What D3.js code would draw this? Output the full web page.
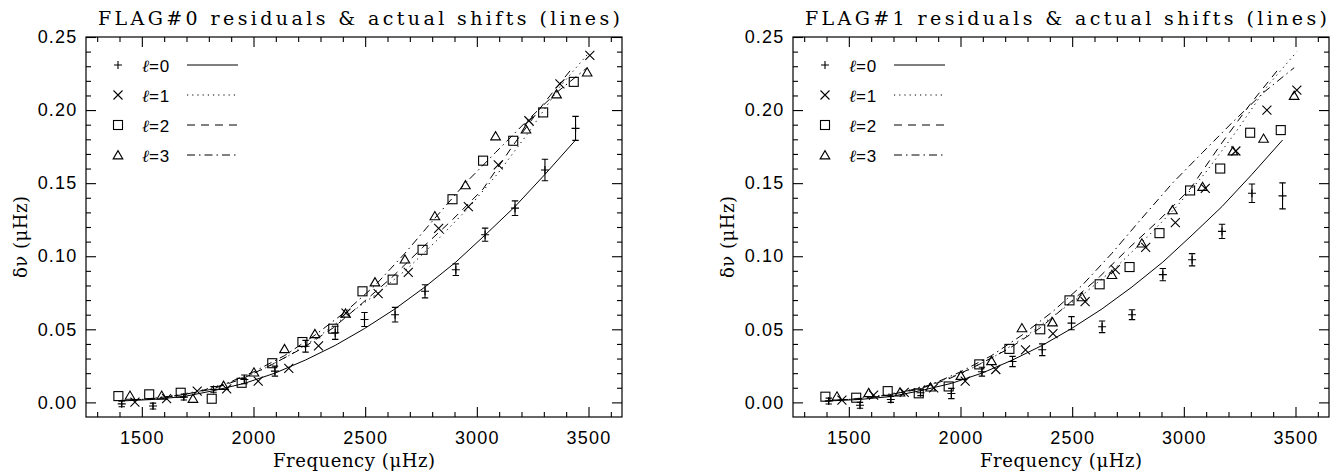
<!DOCTYPE html>
<html><head><meta charset="utf-8">
<script src="https://cdn.jsdelivr.net/npm/d3@7"></script>
<style>body{margin:0;background:#fff} svg{display:block}</style>
</head><body>
<svg id="c" width="1331" height="473"></svg>
<script>
// ---------- data ----------
const titles = ["FLAG#0 residuals & actual shifts (lines)", "FLAG#1 residuals & actual shifts (lines)"];
const xLabel = "Frequency (\u03BCHz)";
const yLabel = "\u03B4\u03BD (\u03BCHz)";
const degreeLabels = ["\u2113=0", "\u2113=1", "\u2113=2", "\u2113=3"];
const xTicks = [1500, 2000, 2500, 3000, 3500];
const xTickLabels = ["1500", "2000", "2500", "3000", "3500"];
const yTicks = [0, 0.05, 0.10, 0.15, 0.20, 0.25];
const yTickLabels = ["0.00", "0.05", "0.10", "0.15", "0.20", "0.25"];

// mode frequencies (muHz) per degree
const freqL0 = [1410, 1550, 1688, 1821, 1959, 2096, 2233, 2366, 2497, 2634, 2768, 2906, 3037, 3171, 3305, 3442];
const freqL1 = [1469, 1611, 1748, 1880, 2021, 2158, 2291, 2414, 2558, 2693, 2829, 2962, 3096, 3233, 3372, 3506];
const freqL2 = [1395, 1533, 1674, 1813, 1947, 2084, 2219, 2357, 2488, 2623, 2757, 2891, 3028, 3163, 3297, 3434];
const freqL3 = [1447, 1589, 1729, 1866, 2002, 2139, 2275, 2412, 2544, 2678, 2812, 2949, 3084, 3220, 3357, 3494];

// actual shifts (lines), same in both panels
const shiftL0 = [0.001, 0.002, 0.004, 0.008, 0.013, 0.020, 0.029, 0.039, 0.0505, 0.064, 0.079, 0.096, 0.1145, 0.134, 0.156, 0.1795];
const shiftL1 = [0.0015, 0.004, 0.0075, 0.013, 0.021, 0.032, 0.045, 0.059, 0.075, 0.092, 0.112, 0.133, 0.157, 0.185, 0.216, 0.240];
const shiftL2 = [0.001, 0.0025, 0.005, 0.009, 0.016, 0.026, 0.037, 0.051, 0.068, 0.086, 0.106, 0.125, 0.146, 0.176, 0.204, 0.230];
const shiftL3 = [0.0015, 0.003, 0.0065, 0.012, 0.021, 0.032, 0.046, 0.062, 0.080, 0.102, 0.126, 0.150, 0.171, 0.192, 0.212, 0.229];

// FLAG#0 residuals
const flag0L0 = [-0.001, -0.0025, 0.0036, 0.0089, 0.0157, 0.0214, 0.0384, 0.0476, 0.0567, 0.060, 0.076, 0.0908, 0.1147, 0.1329, 0.159, 0.1875];
const flag0L0Err = [0.002, 0.002, 0.002, 0.002, 0.003, 0.0034, 0.004, 0.0045, 0.0048, 0.005, 0.0045, 0.004, 0.0045, 0.005, 0.0074, 0.0082];
const flag0L1 = [0.0002, 0.0025, 0.0077, 0.0093, 0.0146, 0.0233, 0.0387, 0.061, 0.0744, 0.089, 0.119, 0.134, 0.1625, 0.1927, 0.218, 0.2375];
const flag0L2 = [0.0043, 0.0055, 0.0066, 0.0025, 0.0134, 0.0268, 0.0413, 0.0504, 0.076, 0.084, 0.1044, 0.139, 0.1654, 0.179, 0.1984, 0.2193];
const flag0L3 = [0.0048, 0.0048, 0.0027, 0.0116, 0.0207, 0.0367, 0.047, 0.061, 0.0824, 0.098, 0.1276, 0.1488, 0.1823, 0.187, 0.211, 0.226];

// FLAG#1 residuals
const flag1L0 = [0.0009, -0.002, 0.002, 0.0066, 0.0061, 0.021, 0.028, 0.036, 0.0542, 0.0517, 0.060, 0.0874, 0.0976, 0.117, 0.1431, 0.1413];
const flag1L0Err = [0.002, 0.002, 0.002, 0.002, 0.0035, 0.003, 0.0035, 0.004, 0.0045, 0.004, 0.0034, 0.0042, 0.0042, 0.0049, 0.0063, 0.0089];
const flag1L1 = [0.0016, 0.005, 0.0068, 0.010, 0.0146, 0.0225, 0.036, 0.047, 0.069, 0.0908, 0.106, 0.123, 0.1465, 0.172, 0.200, 0.2137];
const flag1L2 = [0.0039, 0.0032, 0.0077, 0.0062, 0.0109, 0.026, 0.0366, 0.050, 0.0698, 0.0808, 0.0926, 0.1158, 0.145, 0.160, 0.1845, 0.1863];
const flag1L3 = [0.0043, 0.0066, 0.007, 0.0105, 0.0184, 0.0285, 0.051, 0.055, 0.0722, 0.0874, 0.109, 0.1317, 0.1477, 0.172, 0.1807, 0.210];

// ---------- drawing ----------
const svg = d3.select("#c");
const SERIF = "'DejaVu Serif','Liberation Serif',serif";
const SANS = "'Liberation Sans',Arial,sans-serif";
const dashes = ["none", "1.2,4", "8,6", "8,4,1.5,4"];
const plotTop = 37, plotBottom = 417;
const panels = [
  {x0: 86, x1: 622, title: titles[0], pts: [flag0L0, flag0L1, flag0L2, flag0L3], err: flag0L0Err},
  {x0: 793, x1: 1329, title: titles[1], pts: [flag1L0, flag1L1, flag1L2, flag1L3], err: flag1L0Err}
];
const freqs = [freqL0, freqL1, freqL2, freqL3];
const shifts = [shiftL0, shiftL1, shiftL2, shiftL3];

function symbol(g, k, cx, cy) {
  const s = 4.5;
  if (k === 0) {
    g.append("path").attr("d", `M${cx - 4},${cy}H${cx + 4}M${cx},${cy - 4}V${cy + 4}`);
  } else if (k === 1) {
    g.append("path").attr("d", `M${cx - s},${cy - s}L${cx + s},${cy + s}M${cx - s},${cy + s}L${cx + s},${cy - s}`);
  } else if (k === 2) {
    g.append("rect").attr("x", cx - s).attr("y", cy - s).attr("width", 2 * s).attr("height", 2 * s);
  } else {
    g.append("path").attr("d", `M${cx - 4.8},${cy + 3.9}L${cx},${cy - 4.3}L${cx + 4.8},${cy + 3.9}Z`);
  }
}

panels.forEach((p) => {
  const x = d3.scaleLinear().domain([1250, 3650]).range([p.x0, p.x1]);
  const y = d3.scaleLinear().domain([-0.01, 0.25]).range([plotBottom, plotTop]);
  const g = svg.append("g");

  const minorX = d3.range(1300, 3650, 100).filter(v => v % 500 !== 0);
  const minorY = d3.range(1, 25).map(i => i / 100).filter(v => Math.round(v * 100) % 5 !== 0);

  function axes(gen, pos, ticks, size, labels, pad) {
    const a = g.append("g").attr("transform", pos)
      .call(gen.tickValues(ticks).tickSizeInner(size).tickSizeOuter(0).tickPadding(pad)
        .tickFormat((d, i) => labels ? labels[i] : ""));
    a.select(".domain").remove();
    a.selectAll("line").attr("stroke", "#000").attr("stroke-width", 1.1);
    return a;
  }
  const bx = axes(d3.axisBottom(x), `translate(0,${plotBottom})`, xTicks, -10, xTickLabels, 14.5);
  axes(d3.axisBottom(x), `translate(0,${plotBottom})`, minorX, -5, null, 0);
  axes(d3.axisTop(x), `translate(0,${plotTop})`, xTicks, -10, null, 0);
  axes(d3.axisTop(x), `translate(0,${plotTop})`, minorX, -5, null, 0);
  const ly = axes(d3.axisLeft(y), `translate(${p.x0},0)`, yTicks, -10, yTickLabels, 8.5);
  axes(d3.axisLeft(y), `translate(${p.x0},0)`, minorY, -5, null, 0);
  axes(d3.axisRight(y), `translate(${p.x1},0)`, yTicks, -10, null, 0);
  axes(d3.axisRight(y), `translate(${p.x1},0)`, minorY, -5, null, 0);

  [bx, ly].forEach(a => a.selectAll("text").attr("font-family", SANS).attr("font-size", 18)
    .attr("letter-spacing", 1.2).attr("fill", "#000"));

  g.append("rect").attr("x", p.x0).attr("y", plotTop).attr("width", p.x1 - p.x0).attr("height", plotBottom - plotTop)
    .attr("fill", "none").attr("stroke", "#000").attr("stroke-width", 1.2);

  g.append("text").attr("x", (p.x0 + p.x1) / 2 + 5).attr("y", 25).attr("text-anchor", "middle")
    .attr("font-family", SERIF).attr("font-size", 19).attr("textLength", 522)
    .attr("lengthAdjust", "spacing").text(p.title);
  g.append("text").attr("x", (p.x0 + p.x1) / 2).attr("y", 467).attr("text-anchor", "middle")
    .attr("font-family", SERIF).attr("font-size", 18).attr("textLength", 162)
    .attr("lengthAdjust", "spacing").text(xLabel);
  g.append("text").attr("transform", `translate(${p.x0 - 59},237) rotate(-90)`).attr("text-anchor", "middle")
    .attr("font-family", SERIF).attr("font-size", 18).attr("textLength", 82)
    .attr("lengthAdjust", "spacing").text(yLabel);

  const line = d3.line().x(d => x(d[0])).y(d => y(d[1]));
  shifts.forEach((s, k) => {
    g.append("path").datum(s.map((v, i) => [freqs[k][i], v])).attr("d", line)
      .attr("fill", "none").attr("stroke", "#000").attr("stroke-width", 1)
      .attr("stroke-dasharray", dashes[k]);
  });

  const pg = g.append("g").attr("fill", "none").attr("stroke", "#000").attr("stroke-width", 1.1);
  p.pts.forEach((vals, k) => {
    vals.forEach((v, i) => {
      const cx = x(freqs[k][i]), cy = y(v);
      symbol(pg, k, cx, cy);
      if (k === 0) {
        const e = p.err[i];
        const ya = y(v + e), yb = y(v - e);
        pg.append("path").attr("d", `M${cx},${ya}V${yb}M${cx - 3.2},${ya}H${cx + 3.2}M${cx - 3.2},${yb}H${cx + 3.2}`);
      }
    });
  });

  const lg = g.append("g");
  degreeLabels.forEach((lab, k) => {
    const ly0 = plotTop + 28 + k * 30;
    const sg = lg.append("g").attr("fill", "none").attr("stroke", "#000").attr("stroke-width", 1.1);
    symbol(sg, k, p.x0 + 32, ly0);
    const t = lg.append("text").attr("x", p.x0 + 56).attr("y", ly0 + 6.5)
      .attr("font-family", SANS).attr("font-size", 17).attr("fill", "#000");
    t.append("tspan").attr("font-family", "'DejaVu Serif',serif").attr("font-style", "italic").text(lab.slice(0, 1));
    t.append("tspan").attr("letter-spacing", 0.8).text(lab.slice(1));
    lg.append("line").attr("x1", p.x0 + 101).attr("x2", p.x0 + 152).attr("y1", ly0).attr("y2", ly0)
      .attr("stroke", "#000").attr("stroke-width", 1).attr("stroke-dasharray", dashes[k]);
  });
});
</script></body></html>
